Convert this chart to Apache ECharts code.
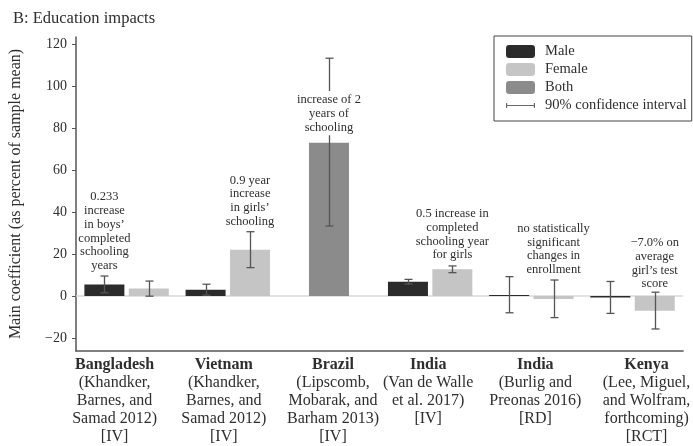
<!DOCTYPE html>
<html><head><meta charset="utf-8">
<script src="https://cdn.jsdelivr.net/npm/echarts@6/dist/echarts.min.js"></script>
<style>html,body{margin:0;padding:0;background:#fff}#c{width:693px;height:446px}</style>
</head><body><div id="c"></div>
<script>
// ---- data ----
const countries = ['Bangladesh', 'Vietnam', 'Brazil', 'India', 'India', 'Kenya'];
const studies = [
  '(Khandker,\nBarnes, and\nSamad 2012)',
  '(Khandker,\nBarnes, and\nSamad 2012)',
  '(Lipscomb,\nMobarak, and\nBarham 2013)',
  '(Van de Walle\net al. 2017)',
  '(Burlig and\nPreonas 2016)',
  '(Lee, Miguel,\nand Wolfram,\nforthcoming)'
];
const methods = ['[IV]', '[IV]', '[IV]', '[IV]', '[RD]', '[RCT]'];

const maleValues   = [5.5, 3.0, null, 6.8, 0.5, -0.7];
const maleLow      = [1.5, 0.4, null, 5.7, -8.0, -8.3];
const maleHigh     = [9.5, 5.6, null, 7.9, 9.2, 6.9];
const femaleValues = [3.5, 22.0, null, 12.7, -1.4, -7.0];
const femaleLow    = [-0.1, 13.5, null, 11.1, -10.3, -15.7];
const femaleHigh   = [7.1, 30.6, null, 14.3, 7.6, 1.8];
const bothValues   = [null, null, 73.0, null, null, null];
const bothLow      = [null, null, 33.3, null, null, null];
const bothHigh     = [null, null, 113.2, null, null, null];

const yTicks = [-20, 0, 20, 40, 60, 80, 100, 120];

// annotation: category index, group (-1 male, 0 both, 1 female), value at text bottom, text
const annCategory = [0, 1, 2, 3, 4, 5];
const annGroup    = [-1, 1, 0, 1, 1, 1];
const annValue    = [11.0, 32.1, 76.5, 16.2, 9.1, 2.4];
const annText = [
  '0.233\nincrease\nin boys\u2019\ncompleted\nschooling\nyears',
  '0.9 year\nincrease\nin girls\u2019\nschooling',
  'increase of 2\nyears of\nschooling',
  '0.5 increase in\ncompleted\nschooling year\nfor girls',
  'no statistically\nsignificant\nchanges in\nenrollment',
  '\u22127.0% on\naverage\ngirl\u2019s test\nscore'
];

// ---- layout / style ----
const SERIF = '"Liberation Serif", "DejaVu Serif", serif';
const TXT = '#2e2e2e';
const BAR_W = 40;
const GROUP_OFF = 22.2;
const labelShift = [-12, -4, 4, -2, 4, 14];
const annBackground = [null, null, '#fff', null, null, null];

const categories = countries.map((c, i) => c + ' ' + i);

const ciData = [];
countries.forEach((c, i) => {
  if (maleValues[i] !== null) ciData.push([i, maleLow[i], maleHigh[i], -1]);
  if (femaleValues[i] !== null) ciData.push([i, femaleLow[i], femaleHigh[i], 1]);
  if (bothValues[i] !== null) ciData.push([i, bothLow[i], bothHigh[i], 0]);
});
const annData = annCategory.map((c, i) => [c, annValue[i], annGroup[i]]);

const chart = echarts.init(document.getElementById('c'), null, {renderer: 'canvas'});
chart.setOption({
  animation: false,
  backgroundColor: '#fff',
  title: {
    text: 'B: Education impacts', left: 8, top: 5,
    textStyle: {fontFamily: SERIF, fontSize: 16.5, fontWeight: 'normal', color: TXT}
  },
  legend: {
    orient: 'vertical', left: 494, top: 36,
    padding: [8, 5, 8, 12],
    borderColor: '#444', borderWidth: 1,
    itemWidth: 29, itemHeight: 13, itemGap: 3,
    textStyle: {fontFamily: SERIF, fontSize: 14.5, color: TXT, lineHeight: 15, padding: [0, 0, 0, 5]},
    data: ['Male', 'Female', 'Both', {
      name: '90% confidence interval',
      icon: 'path://M0,0h0.01v0.01h-0.01z M0,4h1.2v5h-1.2z M1.2,6h26.6v1h-26.6z M27.8,4h1.2v5h-1.2z M28.99,12.99h0.01v0.01h-0.01z'
    }]
  },
  grid: {left: 73, right: 9, top: 37, bottom: 95},
  xAxis: [{
    type: 'category', data: categories,
    axisLine: {onZero: false, lineStyle: {color: '#555', width: 1.5}},
    axisTick: {show: false},
    axisLabel: {
      interval: 0, margin: 5, color: TXT, fontFamily: SERIF, fontSize: 16, lineHeight: 18,
      formatter: (v, i) => '{b' + i + '|' + countries[i] + '}\n' +
        studies[i].split('\n').map(s => '{n' + i + '|' + s + '}').join('\n') +
        '\n{n' + i + '|' + methods[i] + '}',
      rich: (() => {
        const r = {};
        labelShift.forEach((s, i) => {
          const pad = s < 0 ? [0, -2 * s, 0, 0] : [0, 0, 0, 2 * s];
          r['b' + i] = {fontFamily: SERIF, fontSize: 16, fontWeight: 'bold', lineHeight: 18, color: TXT, padding: pad};
          r['n' + i] = {fontFamily: SERIF, fontSize: 16, lineHeight: 18, color: TXT, padding: pad};
        });
        return r;
      })()
    }
  }, {
    type: 'category', data: categories, show: false
  }],
  yAxis: {
    type: 'value', min: -26.2, max: 123.3,
    name: 'Main coefficient (as percent of sample mean)',
    nameLocation: 'middle', nameGap: 52,
    nameTextStyle: {fontFamily: SERIF, fontSize: 16, color: TXT},
    axisLine: {show: true, lineStyle: {color: '#555', width: 1.5}},
    axisTick: {show: true, length: 4, customValues: yTicks, lineStyle: {color: '#555', width: 1}},
    axisLabel: {
      customValues: yTicks, margin: 9, fontFamily: SERIF, fontSize: 14, color: TXT,
      formatter: v => v < 0 ? '\u2212' + Math.abs(v) : String(v)
    },
    splitLine: {show: false}
  },
  series: [
    {
      name: 'Male', type: 'bar', data: maleValues, barWidth: BAR_W, barGap: '11%',
      itemStyle: {color: '#2b2b2b'},
      markLine: {
        silent: true, symbol: 'none', label: {show: false},
        lineStyle: {color: '#d9d9d9', width: 1.5, type: 'solid'},
        data: [{yAxis: 0}], z: 1
      }
    },
    {
      name: 'Female', type: 'bar', data: femaleValues, barWidth: BAR_W, barGap: '11%',
      itemStyle: {color: '#c5c5c5'}
    },
    {
      name: 'Both', type: 'bar', data: bothValues, barWidth: BAR_W, xAxisIndex: 1,
      itemStyle: {color: '#8b8b8b'}
    },
    {
      name: '90% confidence interval', type: 'custom', data: ciData, z: 5,
      itemStyle: {color: '#6a6a6a'},
      encode: {x: 0, y: [1, 2]},
      renderItem: (params, api) => {
        const xi = api.value(0);
        const lo = api.coord([xi, api.value(1)]);
        const hi = api.coord([xi, api.value(2)]);
        const x = Math.round(lo[0] + api.value(3) * GROUP_OFF) + 0.5;
        const cap = 4;
        const st = {stroke: '#555', lineWidth: 1.3};
        return {type: 'group', children: [
          {type: 'line', shape: {x1: x, y1: hi[1], x2: x, y2: lo[1]}, style: st},
          {type: 'line', shape: {x1: x - cap, y1: hi[1], x2: x + cap, y2: hi[1]}, style: st},
          {type: 'line', shape: {x1: x - cap, y1: lo[1], x2: x + cap, y2: lo[1]}, style: st}
        ]};
      }
    },
    {
      name: 'annotations', type: 'custom', data: annData, z: 10, silent: true,
      encode: {x: 0, y: 1},
      renderItem: (params, api) => {
        const p = api.coord([api.value(0), api.value(1)]);
        const x = p[0] + api.value(2) * GROUP_OFF;
        const bg = annBackground[params.dataIndex];
        const style = {
          text: annText[params.dataIndex],
          font: '12.5px ' + SERIF, fill: TXT,
          align: 'center', verticalAlign: 'bottom', lineHeight: 13.8
        };
        if (bg) { style.backgroundColor = bg; style.padding = [2, 3, 1, 3]; }
        return {type: 'text', x: x, y: p[1], style: style};
      }
    }
  ]
});
</script></body></html>
